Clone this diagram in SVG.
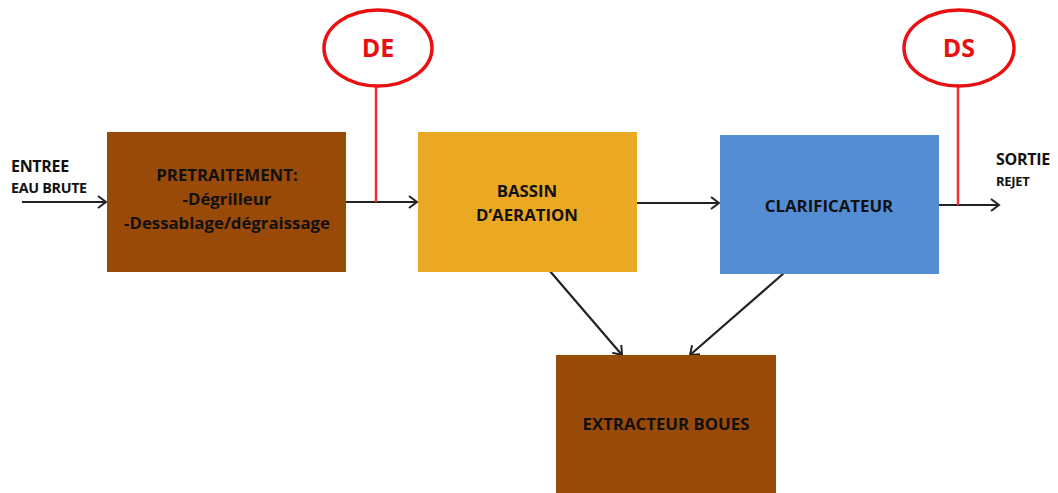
<svg xmlns="http://www.w3.org/2000/svg" width="1058" height="493" viewBox="0 0 1058 493">
<style>
.lbl{font-family:"Open Sans","Liberation Sans",sans-serif;font-weight:bold;font-size:16.8px;fill:#111;text-anchor:middle}
.side{font-family:"Open Sans","Liberation Sans",sans-serif;font-weight:bold;fill:#111}
.conn{stroke:#222;stroke-width:2.2;fill:none}
.red{stroke:#f03030;stroke-width:2.5;fill:none}
.ell{fill:#fff;stroke:#e81010;stroke-width:3.5}
.etxt{font-family:"Open Sans","Liberation Sans",sans-serif;font-weight:bold;font-size:25px;fill:#e81010;text-anchor:middle}
</style>
<defs>
<marker id="arr" markerWidth="14" markerHeight="14" refX="12" refY="7" orient="auto" markerUnits="userSpaceOnUse">
<polyline points="4,1 12,7 4,13" fill="none" stroke="#222" stroke-width="2"/>
</marker>
</defs>
<rect width="1058" height="493" fill="#fff"/>
<g id="connectors">
<line class="conn" x1="22" y1="202" x2="106" y2="202" marker-end="url(#arr)"/>
<line class="conn" x1="346" y1="202" x2="417" y2="202" marker-end="url(#arr)"/>
<line class="conn" x1="637" y1="203" x2="719" y2="203" marker-end="url(#arr)"/>
<line class="conn" x1="939" y1="205" x2="999" y2="205" marker-end="url(#arr)"/>
<line class="conn" x1="549" y1="270" x2="622" y2="355" marker-end="url(#arr)"/>
<line class="conn" x1="784" y1="273" x2="690" y2="355" marker-end="url(#arr)"/>
<line class="red" x1="376" y1="87" x2="376" y2="202"/>
<line class="red" x1="958" y1="87" x2="958" y2="205"/>
</g>
<g id="entree">
<text class="side" x="11" y="172" font-size="16" letter-spacing="-0.3">ENTREE</text>
<text class="side" x="11" y="193" font-size="14.3" letter-spacing="-0.3">EAU BRUTE</text>
</g>
<g id="sortie">
<text class="side" x="996" y="165" font-size="16" letter-spacing="-0.3">SORTIE</text>
<text class="side" x="996" y="186" font-size="13" letter-spacing="-0.3">REJET</text>
</g>
<g id="pretraitement">
<rect x="107" y="132" width="239" height="140" fill="#9a4a08"/>
<text class="lbl" x="227" y="181">PRETRAITEMENT:</text>
<text class="lbl" x="227" y="205">-Dégrilleur</text>
<text class="lbl" x="227" y="229">-Dessablage/dégraissage</text>
</g>
<g id="bassin">
<rect x="418" y="132" width="219" height="140" fill="#eba823"/>
<text class="lbl" x="527" y="197">BASSIN</text>
<text class="lbl" x="527" y="221">D’AERATION</text>
</g>
<g id="clarificateur">
<rect x="720" y="135" width="219" height="139" fill="#548dd4"/>
<text class="lbl" x="829" y="212">CLARIFICATEUR</text>
</g>
<g id="extracteur">
<rect x="556" y="355" width="220" height="138" fill="#9a4a08"/>
<text class="lbl" x="666" y="430">EXTRACTEUR BOUES</text>
</g>
<g id="de">
<ellipse class="ell" cx="378" cy="48" rx="54" ry="38"/>
<text class="etxt" x="378" y="57">DE</text>
</g>
<g id="ds">
<ellipse class="ell" cx="959" cy="48" rx="55" ry="38"/>
<text class="etxt" x="959" y="57">DS</text>
</g>
</svg>
